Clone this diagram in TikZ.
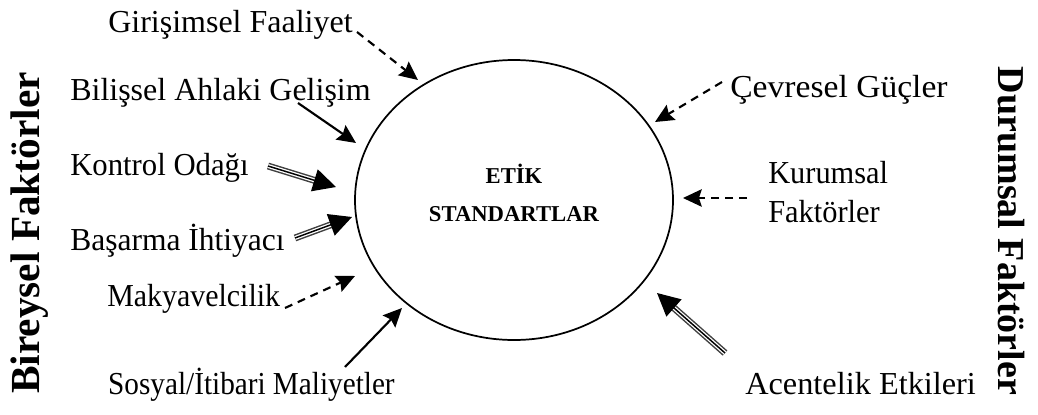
\documentclass[tikz,border=0pt]{standalone}
\usepackage{fontspec}
\setmainfont{Liberation Serif}
\usetikzlibrary{arrows.meta,shapes.geometric}
\begin{document}
\begin{tikzpicture}[x=0.75pt, y=-0.75pt,
    lbl/.style={inner sep=0pt, anchor=base west, transform shape, font=\fontsize{24}{29}\selectfont},
    side/.style={inner sep=0pt, font=\bfseries\fontsize{30}{36}\selectfont},
    dasharrow/.style={line width=1.6pt, dash pattern=on 6pt off 4.5pt, -{Stealth[length=14pt,width=13pt,inset=2pt]}},
    solidarrow/.style={line width=1.6pt, -{Stealth[length=14pt,width=13pt,inset=2pt]}},
    tripleline/.style={draw=black!75, line width=1.1pt, double=white, double distance=3pt, shorten >=11pt},
    tripletip/.style={line width=1.1pt, -{Triangle[length=17pt,width=17pt]}}]

    % Bounding box
    \useasboundingbox (0,0) rectangle (1038,414);

    % Draw the ellipse
    \node[draw, ellipse, line width=1.3pt, minimum width=238.5pt, minimum height=210pt] (std) at (514,200) {};
    \node[align=center, font=\bfseries\fontsize{17}{28}\selectfont] (etk) at (514,193) {ETİK\\STANDARTLAR};

    % Draw the side titles
    \node[side, rotate=90, font=\bfseries\fontsize{31}{36}\selectfont] (bir) at (30,233) {Bireysel Faktörler};
    \node[side, rotate=-90, font=\bfseries\fontsize{28.5}{34}\selectfont] (dur) at (1011,231) {Durumsal Faktörler};

    % Draw the factor labels
    \node[lbl] (gir) at (108,32) {Girişimsel Faaliyet};
    \node[lbl] (bil) at (70,100) {Bilişsel Ahlaki Gelişim};
    \node[lbl, xscale=0.96] (kon) at (70,175) {Kontrol Odağı};
    \node[lbl, xscale=0.985] (bas) at (70,250) {Başarma İhtiyacı};
    \node[lbl, xscale=0.935] (mak) at (107,306) {Makyavelcilik};
    \node[lbl, xscale=0.913] (sos) at (108,394) {Sosyal/İtibari Maliyetler};
    \node[lbl, xscale=1.05] (cev) at (730,97) {Çevresel Güçler};
    \node[lbl, xscale=0.95, align=left] (kur) at (768,222) {Kurumsal\\Faktörler};
    \node[lbl, xscale=1.01] (ace) at (745,394) {Acentelik Etkileri};

    % Arrow end points
    \foreach \n/\sx/\sy/\tx/\ty in {gir/357/32/418/80, bil/298/103/356/143, kon/268/166/336/187,
        bas/295/238/352/217, mak/285/308/355/276, sos/345/367/402/308,
        cev/722/82/655/122, kur/747/198/683/198, ace/725/353/657/293} {
        \coordinate (\n S) at (\sx,\sy);
        \coordinate (\n T) at (\tx,\ty);
    }

    % Draw the dashed arrows
    \foreach \n in {gir, mak, cev, kur} {
        \draw[dasharrow] (\n S) -- (\n T);
    }

    % Draw the solid arrows
    \foreach \n in {bil, sos} {
        \draw[solidarrow] (\n S) -- (\n T);
    }

    % Draw the triple arrows
    \foreach \n in {kon, bas, ace} {
        \draw[tripleline] (\n S) -- (\n T);
        \draw[tripletip] (\n S) -- (\n T);
    }
\end{tikzpicture}
\end{document}
